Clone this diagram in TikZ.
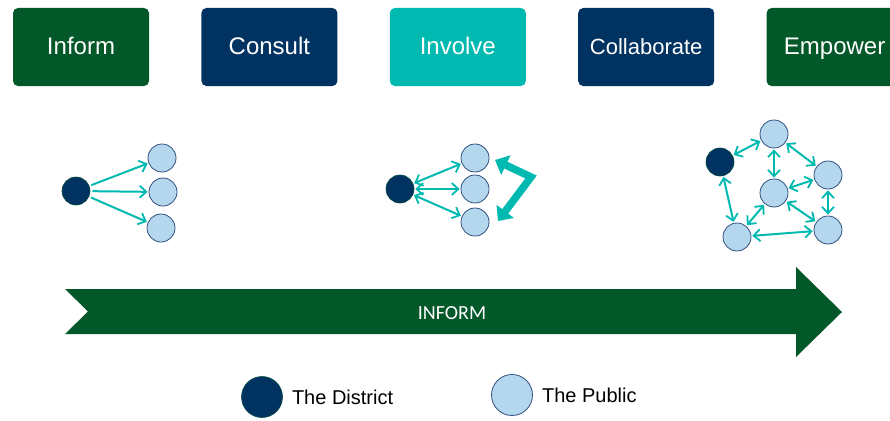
\documentclass[tikz,border=0pt]{standalone}
\usepackage{fontspec}
\setmainfont{Liberation Sans}
\newfontfamily\carlitofont{Carlito}
\usetikzlibrary{positioning,arrows.meta}
\definecolor{dgreen}{RGB}{2,88,40}
\definecolor{dnavy}{RGB}{0,51,98}
\definecolor{dteal}{RGB}{0,185,176}
\definecolor{lblue}{RGB}{181,215,238}
\definecolor{pubedge}{RGB}{47,80,125}
\tikzset{
  stagebox/.style={rectangle, rounded corners=5pt, minimum width=136pt, minimum height=78pt,
    inner sep=0pt, text=white, text height=17pt, text depth=2pt, font=\fontsize{24}{28}\selectfont},
  district/.style={circle, fill=dnavy, draw=dgreen!60!dnavy, line width=0.6pt, minimum size=28pt, inner sep=0pt},
  public/.style={circle, fill=lblue, draw=pubedge, line width=0.8pt, minimum size=28pt, inner sep=0pt},
  barb/.tip={Straight Barb[length=6.5pt,width=12pt,line width=1.8pt]},
  oneway/.style={draw=dteal, line width=2pt, -barb, shorten >=1pt, shorten <=2pt},
  twoway/.style={draw=dteal, line width=2pt, barb-barb, shorten >=1pt, shorten <=1pt},
  legendtext/.style={anchor=west, inner sep=0pt, font=\fontsize{20}{24}\selectfont}
}
\begin{document}
\begin{tikzpicture}[x=1pt,y=-1pt]
  \useasboundingbox (0,0) rectangle (890,420);
  % stage boxes
  \node[stagebox, fill=dgreen] (inform) at (81,47) {Inform};
  \node[stagebox, fill=dnavy, right=52pt of inform] (consult) {Consult};
  \node[stagebox, fill=dteal, right=52pt of consult] (involve) {Involve};
  \node[stagebox, fill=dnavy, right=52pt of involve, font=\fontsize{22}{26}\selectfont] (collab) {Collaborate};
  \node[stagebox, fill=dgreen, right=52pt of collab] (empower) {Empower};

  % inform
  \node[district] (d1) at (76,191) {};
  \node[public] (p11) at (162,158) {};
  \node[public] (p12) at (163,192) {};
  \node[public] (p13) at (161,228) {};
  \path[oneway] (d1) edge (p11) (d1) edge (p12) (d1) edge (p13);

  % involve
  \node[district] (d2) at (400,189) {};
  \node[public] (p21) at (475,158) {};
  \node[public] (p22) at (475,189) {};
  \node[public] (p23) at (475,222) {};
  \path[twoway] (d2) edge (p21) (d2) edge (p22) (d2) edge (p23);
  \coordinate (bendtop) at (495,160);
  \coordinate (bendmid) at (531,177);
  \coordinate (bendbot) at (498,221);
  \draw[dteal, line width=7.5pt, line join=miter,
    {Triangle[length=12pt,width=21pt]}-{Triangle[length=12pt,width=21pt]}]
    (bendtop) -- (bendmid) -- (bendbot);

  % empower
  \node[district] (d3) at (720,162) {};
  \node[public] (pa) at (774,134) {};
  \node[public] (pb) at (774,193) {};
  \node[public] (pc) at (828,175) {};
  \node[public] (pd) at (828,230) {};
  \node[public] (pe) at (737,237) {};
  \path[twoway]
    (d3) edge (pa)
    (d3) edge (pe)
    (pa) edge (pb)
    (pa) edge (pc)
    (pb) edge (pc)
    (pb) edge (pd)
    (pb) edge (pe)
    (pc) edge (pd)
    (pe) edge (pd);

  % big arrow
  \coordinate (tailtop) at (65,289);
  \coordinate (notch) at (88,311.5);
  \coordinate (tailbot) at (65,334);
  \coordinate (basebot) at (796,334);
  \coordinate (headbot) at (796,357);
  \coordinate (tip) at (842,312);
  \coordinate (headtop) at (796,267);
  \coordinate (basetop) at (796,289);
  \fill[dgreen] (tailtop) -- (notch) -- (tailbot) -- (basebot) -- (headbot) -- (tip)
    -- (headtop) -- (basetop) -- cycle;
  \node[text=white, font=\carlitofont\fontsize{20}{24}\selectfont] (arrowlabel) at (452,313) {INFORM};

  % legend
  \node[district, minimum size=41pt] (legd) at (262,397) {};
  \node[legendtext, right=9pt of legd] (legdtext) {The District};
  \node[public, minimum size=41pt] (legp) at (512,395) {};
  \node[legendtext, right=9pt of legp] (legptext) {The Public};
\end{tikzpicture}
\end{document}
